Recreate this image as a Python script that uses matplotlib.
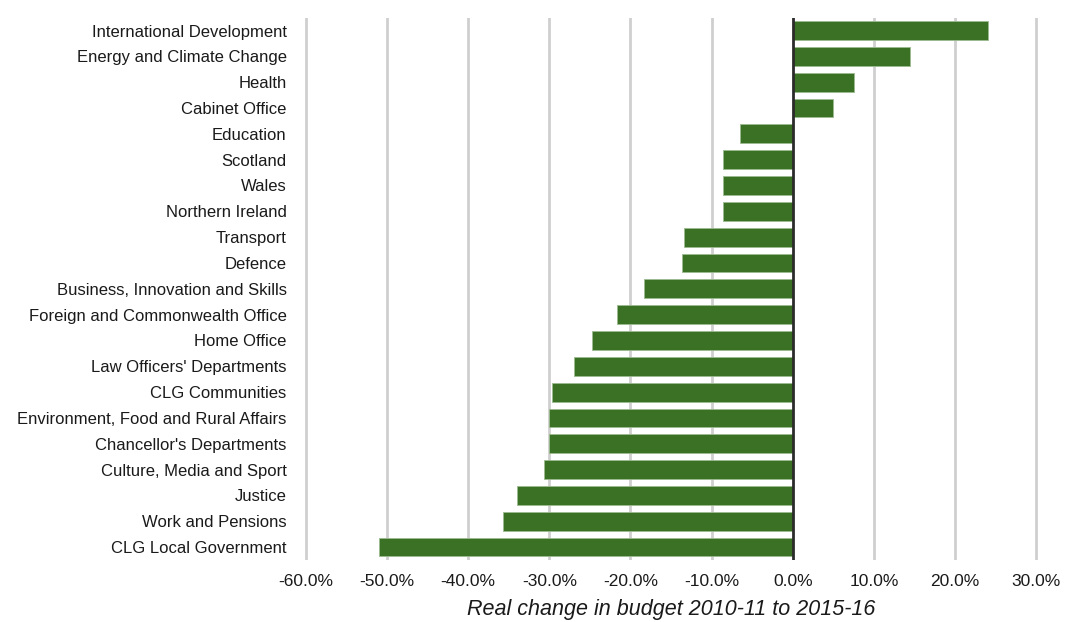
import matplotlib.pyplot as plt
from matplotlib.ticker import FuncFormatter

# ---- data ----
departamentos = [
    "International Development",
    "Energy and Climate Change",
    "Health",
    "Cabinet Office",
    "Education",
    "Scotland",
    "Wales",
    "Northern Ireland",
    "Transport",
    "Defence",
    "Business, Innovation and Skills",
    "Foreign and Commonwealth Office",
    "Home Office",
    "Law Officers' Departments",
    "CLG Communities",
    "Environment, Food and Rural Affairs",
    "Chancellor's Departments",
    "Culture, Media and Sport",
    "Justice",
    "Work and Pensions",
    "CLG Local Government",
]
variacao = [24.0, 14.4, 7.5, 4.9, -6.5, -8.6, -8.6, -8.6, -13.4, -13.6,
            -18.3, -21.6, -24.7, -26.9, -29.7, -30.0, -30.0, -30.6,
            -34.0, -35.7, -51.0]
ticks_x = [-60, -50, -40, -30, -20, -10, 0, 10, 20, 30]

plt.rcParams['font.family'] = ['Liberation Sans', 'DejaVu Sans']

fig = plt.figure(figsize=(10.66, 6.22), dpi=100)
ax = fig.add_axes([0.2845, 0.0997, 0.690, 0.872])

posicoes = list(range(len(departamentos)))
ax.barh(posicoes, variacao, height=0.73, color="#3a7124",
        edgecolor="#9dbb8f", linewidth=0.6, zorder=3)

# linhas de grade
for t in ticks_x:
    if t != 0:
        ax.axvline(t, color="#cfcfcf", linewidth=2, zorder=1)
ax.axvline(0, color="#2b2b2b", linewidth=2, zorder=4)

ax.set_xlim(-60.3, 30.3)
ax.set_ylim(len(departamentos) - 0.5, -0.5)
ax.set_yticks(posicoes)
ax.set_yticklabels(departamentos, fontsize=12, color="#1a1a1a")
ax.set_xticks(ticks_x)
ax.xaxis.set_major_formatter(FuncFormatter(lambda v, p: f"{v:.1f}%"))
ax.tick_params(axis="x", labelsize=12.5, colors="#1a1a1a", length=0, pad=10)
ax.tick_params(axis="y", length=0, pad=12)

for s in ax.spines.values():
    s.set_visible(False)

ax.set_xlabel("Real change in budget 2010-11 to 2015-16", fontsize=15.5,
              fontstyle="italic", color="#1a1a1a", labelpad=7)

fig.savefig("out.png", dpi=100)
